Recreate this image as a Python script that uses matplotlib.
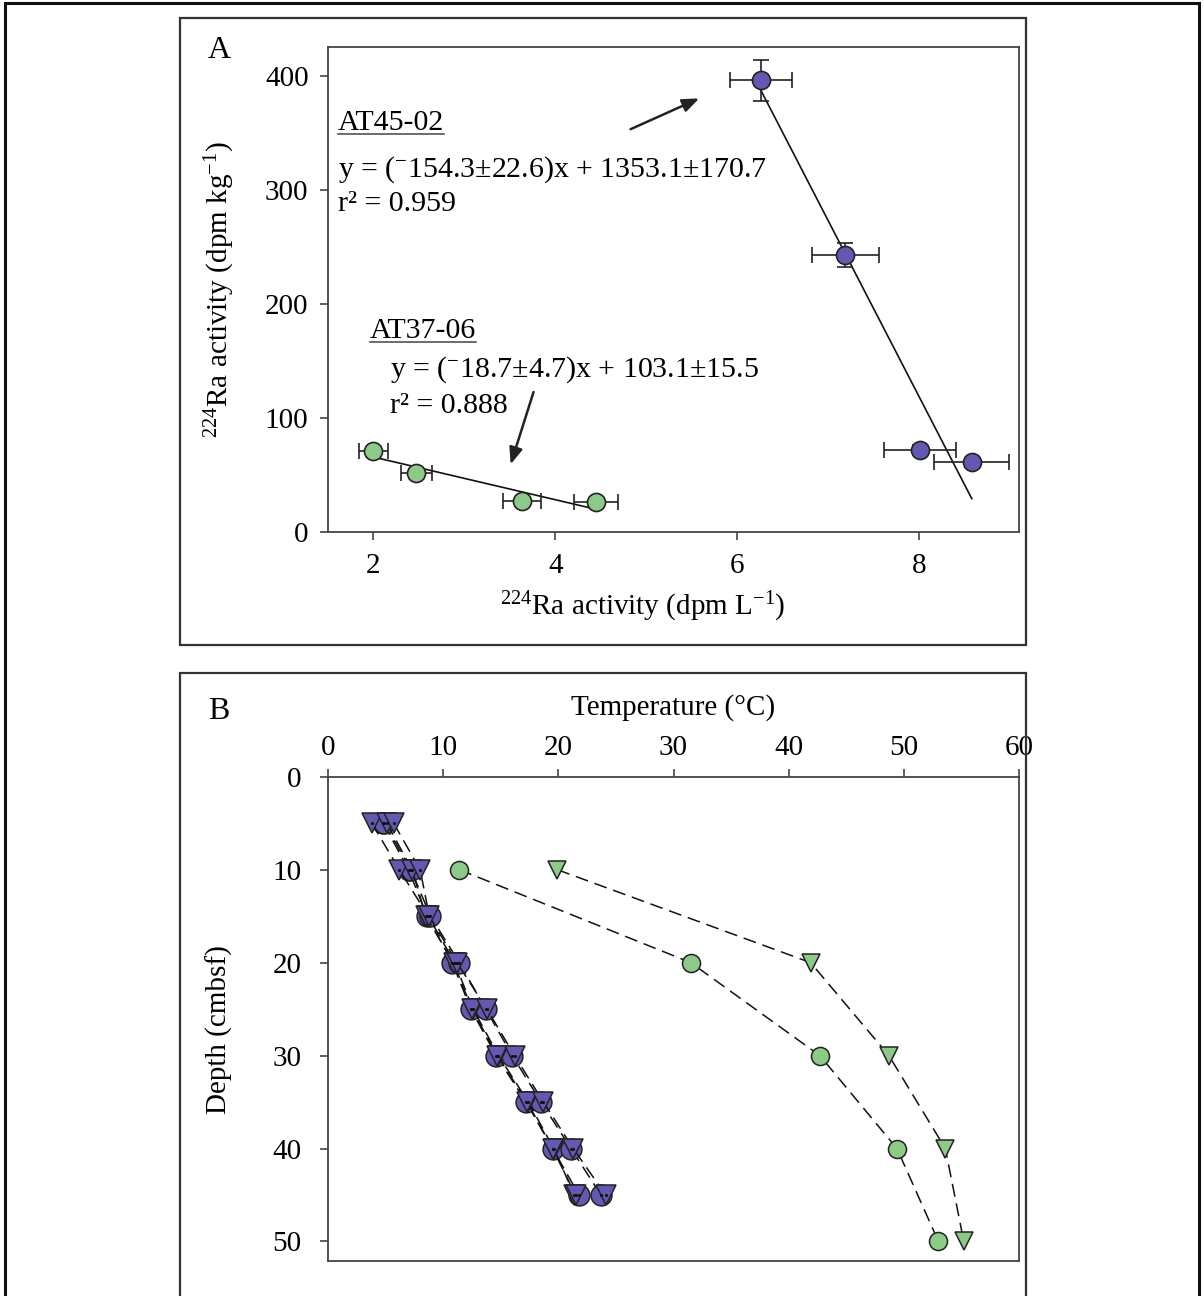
import matplotlib.pyplot as plt
from matplotlib.patches import Rectangle
from matplotlib.lines import Line2D
import numpy as np

plt.rcParams['font.family'] = ['Liberation Serif', 'DejaVu Serif']
plt.rcParams['mathtext.fontset'] = 'custom'
plt.rcParams['mathtext.rm'] = 'Liberation Serif'
plt.rcParams['mathtext.it'] = 'Liberation Serif:italic'

# --- Panel A: 224Ra water vs sediment ---
at45_x = [6.26, 7.19, 8.01, 8.58]
at45_y = [396, 243, 72, 61]
at45_xerr = [0.34, 0.37, 0.40, 0.41]
at45_yerr = [18, 10.5, 4, 4]
at45_slope, at45_icpt = -154.3, 1353.1

at37_x = [2.00, 2.47, 3.63, 4.45]
at37_y = [71, 52, 27, 26]
at37_xerr = [0.16, 0.17, 0.21, 0.24]
at37_yerr = [3, 3, 3, 3]
at37_slope, at37_icpt = -18.7, 103.1

# --- Panel B: temperature profiles ---
green_depth = [10, 20, 30, 40, 50]
green_circ = [11.4, 31.5, 42.7, 49.4, 53.0]
green_tri = [19.9, 41.9, 48.7, 53.6, 55.2]

purple_depth = [5, 10, 15, 20, 25, 30, 35, 40, 45]
purple_circ_1 = [4.8, 7.0, 8.6, 10.8, 12.4, 14.6, 17.2, 19.5, 21.8]
purple_circ_2 = [4.9, 7.2, 8.9, 11.4, 13.7, 16.0, 18.5, 21.1, 23.7]
purple_tri_1 = [3.8, 6.2, 8.7, 11.0, 12.6, 14.8, 17.4, 19.6, 21.4]
purple_tri_2 = [5.1, 7.3, 8.5, 10.9, 12.5, 14.7, 17.3, 19.5, 21.5]
purple_tri_3 = [5.7, 8.0, 8.8, 11.2, 13.8, 16.2, 18.7, 21.3, 24.1]

purple = '#6459b2'
green = '#8dca88'
spine_col = '#444444'

fig = plt.figure(figsize=(12.04, 12.96), dpi=100)

# frames around the figure and each panel
fig.add_artist(Rectangle((0.0042, -0.05), 0.9917, 1.0477, transform=fig.transFigure,
                         fill=False, ec='#111111', lw=2.2))
fig.add_artist(Rectangle((0.1495, 0.5023), 0.7027, 0.4838, transform=fig.transFigure,
                         fill=False, ec='#333333', lw=1.6))
fig.add_artist(Rectangle((0.1495, -0.05), 0.7027, 0.5307, transform=fig.transFigure,
                         fill=False, ec='#333333', lw=1.6))

axA = fig.add_axes([0.2724, 0.5895, 0.574, 0.3742])
axB = fig.add_axes([0.2724, 0.0270, 0.574, 0.3737])

for ax in (axA, axB):
    for s in ax.spines.values():
        s.set_color(spine_col)
        s.set_linewidth(1.3)
    ax.tick_params(direction='out', length=6, width=1.2, color=spine_col,
                   labelsize=21)

# Panel A
fx = np.array([min(at45_x), max(at45_x)])
axA.plot(fx, at45_slope * fx + at45_icpt, color='#111111', lw=1.2, zorder=2)
fx = np.array([min(at37_x), max(at37_x)])
axA.plot(fx, at37_slope * fx + at37_icpt, color='#111111', lw=1.2, zorder=2)

axA.errorbar(at45_x, at45_y, xerr=at45_xerr, yerr=at45_yerr, fmt='o', ms=13,
             mfc=purple, mec='#222222', mew=1.2, ecolor='#222222', elinewidth=1.2,
             capsize=6, capthick=1.2, zorder=3)
axA.errorbar(at37_x, at37_y, xerr=at37_xerr, yerr=at37_yerr, fmt='o', ms=13,
             mfc=green, mec='#222222', mew=1.2, ecolor='#222222', elinewidth=1.2,
             capsize=6, capthick=1.2, zorder=3)

axA.set_xlim(1.5, 9.1)
axA.set_ylim(0, 425)
axA.set_xticks([2, 4, 6, 8])
axA.set_yticks([0, 100, 200, 300, 400])
axA.tick_params(axis='x', pad=9)
axA.tick_params(axis='y', pad=8)
axA.set_xlabel('$^{224}$Ra activity (dpm L$^{-1}$)', fontsize=21, va='center')
axA.xaxis.set_label_coords(0.456, -0.155)
axA.set_ylabel('$^{224}$Ra activity (dpm kg$^{-1}$)', fontsize=21, va='center')
axA.yaxis.set_label_coords(-0.157, 0.5)

fs = 21.5
t1 = axA.text(1.61, 352.6, 'AT45-02', fontsize=fs, va='baseline')
axA.text(1.61, 311.7, 'y = ($^{-}$154.3±22.6)x + 1353.1±170.7', fontsize=fs, va='baseline')
axA.text(1.61, 281, 'r² = 0.959', fontsize=fs, va='baseline')
t2 = axA.text(1.96, 170.2, 'AT37-06', fontsize=fs, va='baseline')
axA.text(2.18, 136.2, 'y = ($^{-}$18.7±4.7)x + 103.1±15.5', fontsize=fs, va='baseline')
axA.text(2.18, 104.4, 'r² = 0.888', fontsize=fs, va='baseline')

arrow = dict(arrowstyle='-|>,head_length=1.0,head_width=0.4', color='#222222', lw=1.8)
axA.annotate('', xy=(5.61, 381), xytext=(4.80, 352), arrowprops=arrow)
axA.annotate('', xy=(3.50, 57), xytext=(3.77, 125), arrowprops=arrow)

# Panel B
dash = (8.5, 4.5)
for temps, mk in [(purple_circ_1, 'o'), (purple_circ_2, 'o'),
                  (purple_tri_1, 'v'), (purple_tri_2, 'v'), (purple_tri_3, 'v')]:
    axB.plot(temps, purple_depth, color='#111111', lw=1.1, dashes=dash,
             marker=mk, ms=15, mfc=purple, mec='#222222', mew=1.1, zorder=3)
    axB.plot(temps, purple_depth, ls='none', marker='.', ms=2.5, color='#111111', zorder=4)

axB.plot(green_circ, green_depth, color='#111111', lw=1.1, dashes=dash,
         marker='o', ms=13, mfc=green, mec='#222222', mew=1.1, zorder=3)
axB.plot(green_tri, green_depth, color='#111111', lw=1.1, dashes=dash,
         marker='v', ms=13, mfc=green, mec='#222222', mew=1.1, zorder=3)

axB.set_xlim(0, 60)
axB.set_ylim(52.1, 0)
axB.set_xticks(range(0, 61, 10))
axB.set_yticks(range(0, 51, 10))
axB.xaxis.tick_top()
axB.xaxis.set_label_position('top')
axB.tick_params(axis='x', pad=5)
axB.tick_params(axis='y', pad=13)
axB.set_xlabel('Temperature (°C)', fontsize=21, va='center')
axB.xaxis.set_label_coords(0.5, 1.142)
axB.set_ylabel('Depth (cmbsf)', fontsize=21, va='center')
axB.yaxis.set_label_coords(-0.157, 0.477)

fig.text(0.1728, 0.9552, 'A', fontsize=23, va='baseline')
fig.text(0.1728, 0.4452, 'B', fontsize=23, va='baseline')

# underline the cruise labels
fig.canvas.draw()
inv = fig.transFigure.inverted()
for t in (t1, t2):
    bb = t.get_window_extent()
    (x0, y0), (x1, _) = inv.transform([(bb.x0, bb.y0), (bb.x1, bb.y1)])
    yl = y0 + 2.0 / 1296
    fig.add_artist(Line2D([x0, x1], [yl, yl], transform=fig.transFigure,
                          color='#444444', lw=1.1))

fig.savefig('out.png', dpi=100)
